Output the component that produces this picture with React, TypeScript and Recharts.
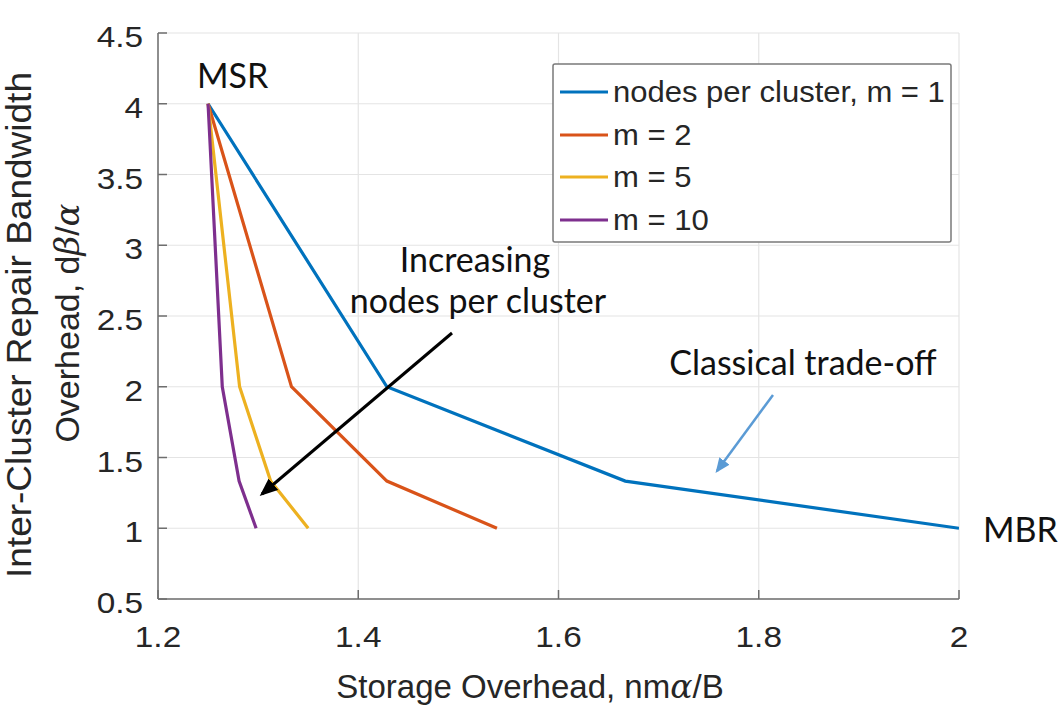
import React from "react";
import { LineChart, Line, XAxis, YAxis, CartesianGrid, Legend, Label } from "recharts";

// storage overhead (x) and inter-cluster repair bandwidth (y) per nodes-per-cluster setting
const storageM1 = [1.25, 1.4286, 1.6667, 2.0];
const bandwidthM1 = [4, 2, 1.3333, 1];
const storageM2 = [1.25, 1.3333, 1.4286, 1.5385];
const bandwidthM2 = [4, 2, 1.3333, 1];
const storageM5 = [1.25, 1.2815, 1.3125, 1.35];
const bandwidthM5 = [4, 2, 1.3333, 1];
const storageM10 = [1.25, 1.2642, 1.281, 1.298];
const bandwidthM10 = [4, 2, 1.3333, 1];

const seriesNames = ["nodes per cluster, m = 1", "m = 2", "m = 5", "m = 10"];
const seriesColors = ["#0072BD", "#D95319", "#EDB120", "#7E2F8E"];

const xTicks = [1.2, 1.4, 1.6, 1.8, 2];
const yTicks = [0.5, 1, 1.5, 2, 2.5, 3, 3.5, 4, 4.5];

const toPoints = (xs: number[], ys: number[]) => xs.map((x, i) => ({ x, y: ys[i] }));

const series = [
  toPoints(storageM1, bandwidthM1),
  toPoints(storageM2, bandwidthM2),
  toPoints(storageM5, bandwidthM5),
  toPoints(storageM10, bandwidthM10),
];

const W = 1060;
const H = 708;
const AXIS = "#6e6e6e";
const TEXT = "#262626";
const SANS = "'Liberation Sans', Arial, Helvetica, sans-serif";
const CALLOUT = "Lato, 'Open Sans', sans-serif";
const GREEK = "'DejaVu Serif', 'Liberation Serif', serif";

// tick labels are drawn a little wide, like the MATLAB export
const XTick = (props: any) => {
  const { x, y, payload } = props;
  return (
    <g>
      <line x1={x} y1={y} x2={x} y2={y - 9} stroke={AXIS} strokeWidth={1.5} />
      <text
        transform={`translate(${x} ${y + 48}) scale(1.15 1)`}
        textAnchor="middle"
        fontFamily={SANS}
        fontSize={29}
        fill={TEXT}
      >
        {payload.value}
      </text>
    </g>
  );
};

const YTick = (props: any) => {
  const { x, y, payload } = props;
  return (
    <g>
      <line x1={x} y1={y} x2={x + 9} y2={y} stroke={AXIS} strokeWidth={1.5} />
      <text
        transform={`translate(${x - 15} ${y + 14}) scale(1.15 1)`}
        textAnchor="end"
        fontFamily={SANS}
        fontSize={29}
        fill={TEXT}
      >
        {payload.value}
      </text>
    </g>
  );
};

const XTitle = () => (
  <text x={530} y={698} textAnchor="middle" fontFamily={SANS} fontSize={33} fill={TEXT}>
    Storage Overhead, nm
    <tspan fontFamily={GREEK} fontStyle="italic">α</tspan>/B
  </text>
);

const YTitle = () => (
  <g>
    <text
      x={31}
      y={325}
      transform="rotate(-90 31 325)"
      textAnchor="middle"
      fontFamily={SANS}
      fontSize={35}
      fill={TEXT}
      textLength={506}
      lengthAdjust="spacingAndGlyphs"
    >
      Inter-Cluster Repair Bandwidth
    </text>
    <text
      x={79}
      y={323}
      transform="rotate(-90 79 323)"
      textAnchor="middle"
      fontFamily={SANS}
      fontSize={34}
      fill={TEXT}
    >
      Overhead, d
      <tspan fontFamily={GREEK} fontStyle="italic">β</tspan>/
      <tspan fontFamily={GREEK} fontStyle="italic">α</tspan>
    </text>
  </g>
);

const LegendBox = (props: any) => {
  const entries = [...(props.payload || [])].sort(
    (a: any, b: any) => seriesNames.indexOf(a.value) - seriesNames.indexOf(b.value)
  );
  const rows = [29, 72, 114, 157];
  return (
    <svg width={400} height={180}>
      <rect x={1} y={1} width={398} height={178} fill="#fff" stroke="#7a7a7a" strokeWidth={1.5} rx={2} />
      {entries.map((entry: any, i: number) => (
        <g key={entry.value}>
          <line x1={8} y1={rows[i]} x2={56} y2={rows[i]} stroke={entry.color} strokeWidth={3} />
          <text
            transform={`translate(61 ${rows[i] + 10}) scale(1.07 1)`}
            fontFamily={SANS}
            fontSize={29}
            fill={TEXT}
          >
            {entry.value}
          </text>
        </g>
      ))}
    </svg>
  );
};

export default function App() {
  return (
    <div style={{ position: "absolute", left: 0, top: 0, width: W, height: H, background: "#fff" }}>
      <LineChart width={W} height={H} margin={{ top: 33, right: 101, bottom: 49, left: 0 }}>
        <CartesianGrid stroke="#e4e4e4" strokeWidth={1.2} />
        <XAxis
          dataKey="x"
          type="number"
          domain={[1.2, 2]}
          ticks={xTicks}
          interval={0}
          height={60}
          allowDataOverflow
          stroke={AXIS}
          strokeWidth={1.5}
          tickLine={false}
          tickSize={0}
          tickMargin={0}
          tick={<XTick />}
        >
          <Label content={<XTitle />} />
        </XAxis>
        <YAxis
          type="number"
          domain={[0.5, 4.5]}
          ticks={yTicks}
          interval={0}
          width={158}
          allowDataOverflow
          stroke={AXIS}
          strokeWidth={1.5}
          tickLine={false}
          tickSize={0}
          tickMargin={0}
          tick={<YTick />}
        >
          <Label content={<YTitle />} />
        </YAxis>
        {series.map((points, i) => (
          <Line
            key={seriesNames[i]}
            data={points}
            dataKey="y"
            name={seriesNames[i]}
            stroke={seriesColors[i]}
            strokeWidth={3.2}
            dot={false}
            activeDot={false}
            isAnimationActive={false}
          />
        ))}
        <Legend
          layout="horizontal"
          verticalAlign="middle"
          align="center"
          content={<LegendBox />}
          wrapperStyle={{ left: 552, top: 63, width: 400, height: 180 }}
        />
      </LineChart>

      {/* callouts drawn over the plot */}
      <svg width={W} height={H} style={{ position: "absolute", left: 0, top: 0, pointerEvents: "none" }}>
        <defs>
          <marker id="headBlack" markerWidth="6" markerHeight="5" refX="5" refY="2.5" orient="auto" markerUnits="strokeWidth">
            <path d="M0,0 L6,2.5 L0,5 z" fill="#000" />
          </marker>
          <marker id="headBlue" markerWidth="6" markerHeight="5" refX="5" refY="2.5" orient="auto" markerUnits="strokeWidth">
            <path d="M0,0 L6,2.5 L0,5 z" fill="#5B9BD5" />
          </marker>
        </defs>
        <g fontFamily={CALLOUT} fontSize={34} fill="#111">
          <text x={197} y={88}>MSR</text>
          <text x={983} y={542}>MBR</text>
          <text x={475} y={272} textAnchor="middle">Increasing</text>
          <text x={478} y={313} textAnchor="middle">nodes per cluster</text>
          <text x={803} y={375} textAnchor="middle">Classical trade-off</text>
        </g>
        <line x1={452} y1={333} x2={262} y2={494} stroke="#000" strokeWidth={3} markerEnd="url(#headBlack)" />
        <line x1={773} y1={395} x2={717} y2={471} stroke="#5B9BD5" strokeWidth={2.5} markerEnd="url(#headBlue)" />
      </svg>
    </div>
  );
}
